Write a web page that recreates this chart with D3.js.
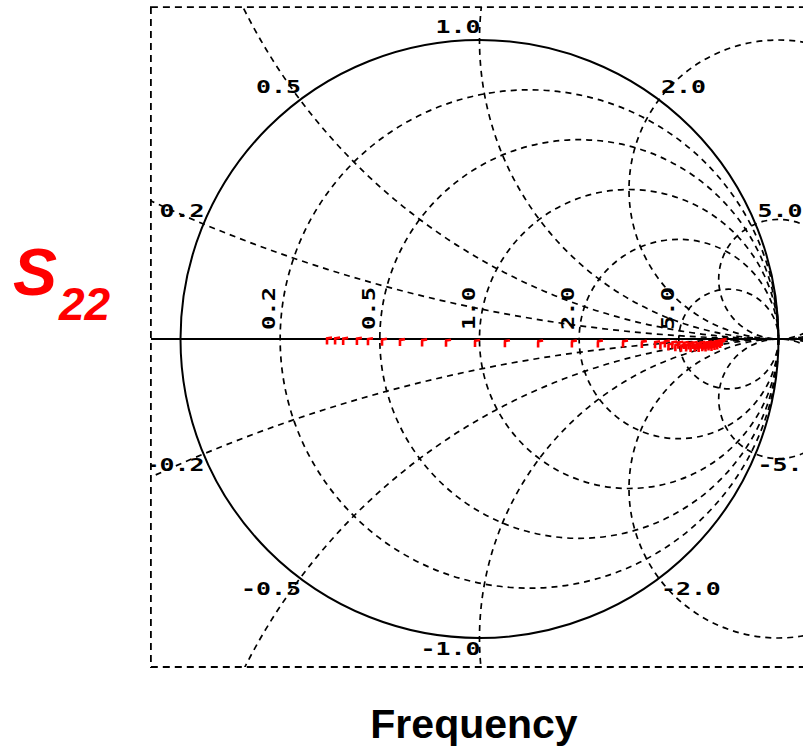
<!DOCTYPE html>
<html><head><meta charset="utf-8">
<script src="https://cdn.jsdelivr.net/npm/d3@7"></script>
<style>body{margin:0;background:#fff}</style>
</head><body>
<svg id="c" width="803" height="748"></svg>
<script>
// ---- data ----
const rValues = [0.2, 0.5, 1.0, 2.0, 5.0];
const rLabels = ["0.2", "0.5", "1.0", "2.0", "5.0"];
const xValues = [0.2, 0.5, 1.0, 2.0, 5.0, -0.2, -0.5, -1.0, -2.0, -5.0];
const xLabels = ["0.2", "0.5", "1.0", "2.0", "5.0", "-0.2", "-0.5", "-1.0", "-2.0", "-5."];
const s22Re = [-0.51,-0.483,-0.456,-0.41,-0.373,-0.326,-0.266,-0.192,-0.112,-0.015,0.085,0.196,0.309,0.396,0.48,0.543,0.587,0.605,0.62,0.632,0.645,0.655,0.665,0.674,0.683,0.691,0.699,0.706,0.713,0.72,0.727,0.733,0.739,0.745,0.75,0.756,0.761,0.766,0.771,0.776,0.781,0.786,0.79,0.795,0.8,0.805,0.81];
const s22Im = [-0.002,-0.002,-0.003,-0.003,-0.004,-0.006,-0.007,-0.008,-0.009,-0.01,-0.011,-0.012,-0.012,-0.012,-0.012,-0.013,-0.014,-0.018,-0.012,-0.022,-0.015,-0.024,-0.016,-0.026,-0.017,-0.025,-0.018,-0.027,-0.017,-0.025,-0.019,-0.027,-0.016,-0.024,-0.018,-0.025,-0.015,-0.022,-0.016,-0.023,-0.014,-0.02,-0.012,-0.018,-0.01,-0.013,-0.007];
const yTitle = "S";
const yTitleSub = "22";
const xTitle = "Frequency";

// ---- layout ----
const cx = 479.5, cy = 339, R = 299;
const xs = d3.scaleLinear().domain([-1, 1]).range([cx - R, cx + R]);
const ys = d3.scaleLinear().domain([-1, 1]).range([cy + R, cy - R]);
const unit = R;
const frame = {x0: xs(-1.099), x1: xs(1.1), y0: ys(1.11), y1: ys(-1.097)};

const svg = d3.select("#c");
svg.append("defs").append("clipPath").attr("id", "fr")
  .append("rect").attr("x", frame.x0).attr("y", frame.y0)
  .attr("width", frame.x1 - frame.x0).attr("height", frame.y1 - frame.y0);

// frame
svg.append("rect").attr("x", frame.x0).attr("y", frame.y0)
  .attr("width", frame.x1 - frame.x0).attr("height", frame.y1 - frame.y0)
  .attr("fill", "none").attr("stroke", "#000").attr("stroke-width", 1.8)
  .attr("stroke-dasharray", "7,5");

const g = svg.append("g").attr("clip-path", "url(#fr)");
const dash = "6,5";

// resistance circles
g.selectAll("circle.r").data(rValues).join("circle").attr("class", "r")
  .attr("cx", r => xs(r / (1 + r))).attr("cy", ys(0))
  .attr("r", r => unit / (1 + r))
  .attr("fill", "none").attr("stroke", "#000").attr("stroke-width", 1.7)
  .attr("stroke-dasharray", dash);

// reactance circles
g.selectAll("circle.x").data(xValues).join("circle").attr("class", "x")
  .attr("cx", xs(1)).attr("cy", x => ys(1 / x))
  .attr("r", x => unit / Math.abs(x))
  .attr("fill", "none").attr("stroke", "#000").attr("stroke-width", 1.7)
  .attr("stroke-dasharray", dash);

// unit circle
g.append("circle").attr("cx", xs(0)).attr("cy", ys(0)).attr("r", unit)
  .attr("fill", "none").attr("stroke", "#000").attr("stroke-width", 2);

// real axis
g.append("line").attr("x1", frame.x0).attr("x2", 803)
  .attr("y1", ys(0)).attr("y2", ys(0))
  .attr("stroke", "#000").attr("stroke-width", 2.2);

// labels
const lab = svg.append("g").attr("clip-path", "url(#fr)")
  .attr("font-family", "'DejaVu Sans Mono', 'Liberation Mono', monospace")
  .attr("font-size", 18).attr("font-weight", "bold").attr("fill", "#000");

xValues.forEach((x, i) => {
  const gr = (x * x - 1) / (x * x + 1), gi = 2 * x / (x * x + 1);
  const px = xs(gr), py = ys(gi);
  const txt = xLabels[i];
  lab.append("text")
    .attr("x", gr <= 0.001 ? px + 1 : px + 2)
    .attr("y", x > 0 ? py - 7 : py + 17)
    .attr("text-anchor", gr <= 0.001 ? "end" : "start")
    .attr("textLength", txt.length * 15)
    .attr("lengthAdjust", "spacingAndGlyphs")
    .text(txt);
});

rValues.forEach((r, i) => {
  const left = xs((r - 1) / (r + 1));
  lab.append("text")
    .attr("transform", `translate(${left - 5},${ys(0) - 9}) rotate(-90)`)
    .attr("textLength", 43).attr("lengthAdjust", "spacingAndGlyphs")
    .text(rLabels[i]);
});

// S22 data markers
const pts = s22Re.map((re, i) => [re, s22Im[i]]);
svg.append("g").selectAll("path").data(pts).join("path")
  .attr("transform", d => `translate(${xs(d[0])},${ys(d[1])})`)
  .attr("d", "M0,-1 L0,5 M-1,-1 L5,-2")
  .attr("fill", "none").attr("stroke", "#ff0000").attr("stroke-width", 2.6);

// titles
const yt = svg.append("text").attr("x", 13).attr("y", 295)
  .attr("font-family", "'Liberation Sans', Arial, sans-serif")
  .attr("font-weight", "bold").attr("font-style", "italic")
  .attr("fill", "#ff0000").attr("font-size", 66);
yt.append("tspan").text(yTitle);
yt.append("tspan").attr("font-size", 46).attr("dy", 25).attr("dx", 2).text(yTitleSub);

svg.append("text").attr("x", 474).attr("y", 738).attr("text-anchor", "middle")
  .attr("font-family", "'Liberation Sans', Arial, sans-serif")
  .attr("font-weight", "bold").attr("font-size", 41).attr("fill", "#000")
  .text(xTitle);
</script>
</body></html>
